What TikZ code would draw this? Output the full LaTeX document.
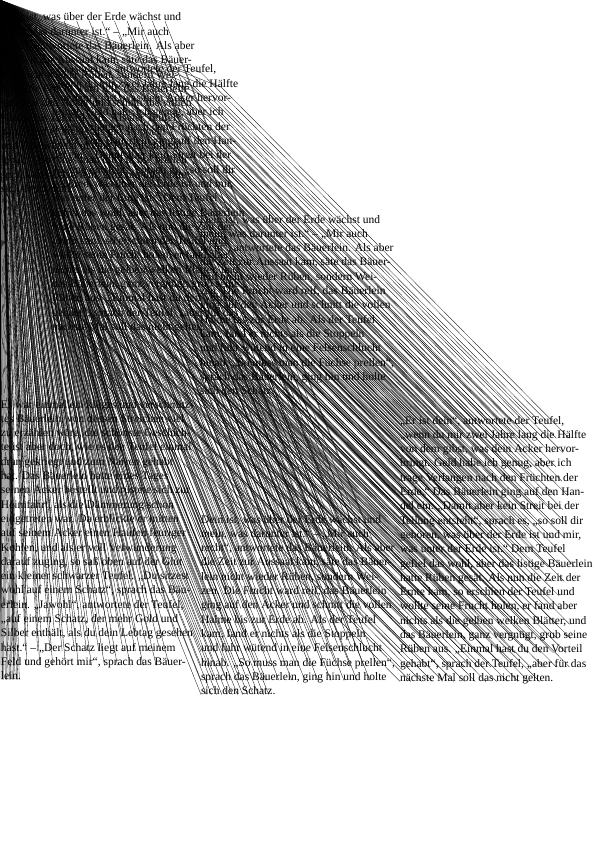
\documentclass[tikz,border=0pt]{standalone}
\usepackage{fontspec}
\setmainfont{Liberation Serif}
\usetikzlibrary{calc}

\tikzset{
  txt/.style={anchor=base west, inner sep=0pt, outer sep=0pt, font=\fontsize{11.5}{14.3}\selectfont},
  ray/.style={line width=0.3pt, black},
}

\newcommand\colLeft{{Es war einmal ein kluges und verschmitz-},{tes Bäuerlein, von dessen Streichen viel},{zu erzählen wäre, die schönste Geschich-},{te ist aber doch, wie es den Teufel einmal},{dran gekriegt und zum Narren gehabt},{hat. Das Bäuerlein hatte eines Tages},{seinen Acker bestellt und rüstete sich zur},{Heimfahrt, als die Dämmerung schon},{eingetreten war. Da erblickte er mitten},{auf seinem Acker einen Haufen feuriger},{Kohlen, und als er voll Verwunderung},{darauf zuging, so saß oben auf der Glut},{ein kleiner schwarzer Teufel. „Du sitzest},{wohl auf einem Schatz“, sprach das Bäu-},{erlein. „Jawohl“, antwortete der Teufel,},{„auf einem Schatz, der mehr Gold und},{Silber enthält, als du dein Lebtag gesehen},{hast.“ – „Der Schatz liegt auf meinem},{Feld und gehört mir“, sprach das Bäuer-},{lein.}}
\newcommand\colMid{{Dein ist, was über der Erde wächst und},{mein, was darunter ist.“ – „Mir auch},{recht“, antwortete das Bäuerlein. Als aber},{die Zeit zur Aussaat kam, säte das Bäuer-},{lein nicht wieder Rüben, sondern Wei-},{zen. Die Frucht ward reif, das Bäuerlein},{ging auf den Acker und schnitt die vollen},{Halme bis zur Erde ab. Als der Teufel},{kam, fand er nichts als die Stoppeln},{und fuhr wütend in eine Felsenschlucht},{hinab. „So muss man die Füchse prellen“,},{sprach das Bäuerlein, ging hin und holte},{sich den Schatz.}}
\newcommand\colRight{{„Er ist dein“, antwortete der Teufel,},{„wenn du mir zwei Jahre lang die Hälfte},{von dem gibst, was dein Acker hervor-},{bringt. Geld habe ich genug, aber ich},{trage Verlangen nach den Früchten der},{Erde.“ Das Bäuerlein ging auf den Han-},{del ein. „Damit aber kein Streit bei der},{Teilung entsteht“, sprach es, „so soll dir},{gehören, was über der Erde ist und mir,},{was unter der Erde ist.“ Dem Teufel},{gefiel das wohl, aber das listige Bäuerlein},{hatte Rüben gesät. Als nun die Zeit der},{Ernte kam, so erschien der Teufel und},{wollte seine Frucht holen, er fand aber},{nichts als die gelben welken Blätter, und},{das Bäuerlein, ganz vergnügt, grub seine},{Rüben aus. „Einmal hast du den Vorteil},{gehabt“, sprach der Teufel, „aber für das},{nächste Mal soll das nicht gelten.}}

\begin{document}
\begin{tikzpicture}[x=1pt, y=-1pt]
\useasboundingbox (0,0) rectangle (595,842);
\coordinate (corner) at (0,0);
% the three columns
\foreach \t [count=\i] in \colLeft
  \node[txt] (a\i) at (1, 408+14.3*\i-14.3) {\t};
\foreach \t [count=\i] in \colMid
  \node[txt] (b\i) at (201, 523+14.3*\i-14.3) {\t};
\foreach \t [count=\i] in \colRight
  \node[txt] (c\i) at (400, 424+14.3*\i-14.3) {\t};
% shifted copies
\foreach \t [count=\i] in \colMid
  \node[txt] (bt\i) at (1, 21+14.3*\i-14.3) {\t};
\foreach \t [count=\i] in \colMid
  \node[txt] (bm\i) at (200, 223+14.3*\i-14.3) {\t};
\foreach \t [count=\i] in \colRight
  \node[txt] (ct\i) at (52, 73+14.3*\i-14.3) {\t};
% rays out of the corner
\foreach \i in {1,...,20}
  \foreach \f in {0,0.07,...,0.95}
    \draw[ray] (corner) -- ($(a\i.base west)!\f!(a\i.base east)$);
\foreach \i in {1,...,19}
  \foreach \f in {0,0.07,...,0.95}
    \draw[ray] (corner) -- ($(ct\i.base west)!\f!(ct\i.base east)$);
% copy to column
\foreach \i in {1,...,13}
  \foreach \f in {0,0.07,...,0.95}
    \draw[ray] ($(bt\i.base west)!\f!(bt\i.base east)$) -- ($(b\i.base west)!\f!(b\i.base east)$);
\foreach \i in {1,...,19}
  \foreach \f in {0,0.07,...,0.95}
    \draw[ray] ($(ct\i.base west)!\f!(ct\i.base east)$) -- ($(c\i.base west)!\f!(c\i.base east)$);
\end{tikzpicture}
\end{document}
